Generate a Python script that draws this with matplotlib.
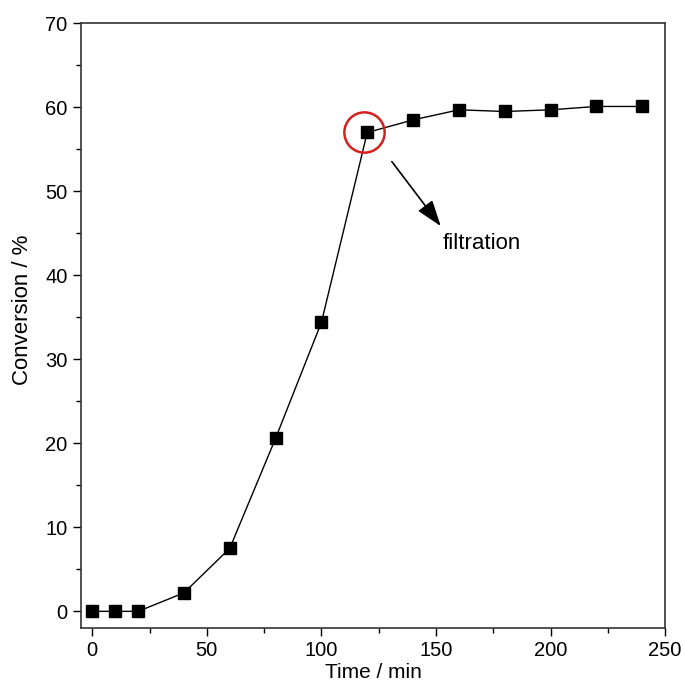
import numpy as np
import matplotlib.pyplot as plt
from matplotlib.ticker import MultipleLocator

plt.rcParams["font.family"] = ["Liberation Sans", "DejaVu Sans"]

time = [0, 10, 20, 40, 60, 80, 100, 120, 140, 160, 180, 200, 220, 240]
conversion = [0, 0, 0, 2.2, 7.5, 20.6, 34.4, 57.0, 58.5, 59.7, 59.5, 59.7, 60.1, 60.1]
filt_time = 120
filt_conv = 57.0

fig = plt.figure(figsize=(6.85, 6.85), dpi=100)
ax = fig.add_axes([0.118, 0.083, 0.853, 0.883])

ax.plot(time, conversion, color="black", lw=1, marker="s", ms=8,
        mfc="black", mec="black")

# circle around the filtration point
ax.plot([filt_time - 1.5], [filt_conv], marker="o", ms=29, mfc="none",
        mec="#d42020", mew=1.8)

ax.annotate("", xy=(152.8, 45.6), xytext=(130, 53.8),
            arrowprops=dict(arrowstyle="-|>,head_length=1.6,head_width=0.55",
                            color="black", lw=1.2))
ax.text(153, 43.8, "filtration", fontsize=16, va="center", ha="left")

ax.set_xlim(-5, 250)
ax.set_ylim(-2, 70)
ax.xaxis.set_major_locator(MultipleLocator(50))
ax.xaxis.set_minor_locator(MultipleLocator(25))
ax.yaxis.set_major_locator(MultipleLocator(10))
ax.yaxis.set_minor_locator(MultipleLocator(5))
ax.tick_params(which="major", direction="out", length=6, width=1, labelsize=14.5)
ax.tick_params(which="minor", direction="out", length=3.5, width=1)

for s in ax.spines.values():
    s.set_linewidth(1.2)
    s.set_color("#333333")

ax.set_xlabel("Time / min", fontsize=15, labelpad=2)
ax.set_ylabel("Conversion / %", fontsize=16)
ax.yaxis.set_label_coords(-0.082, 0.526)

fig.savefig("out.png", dpi=100)
